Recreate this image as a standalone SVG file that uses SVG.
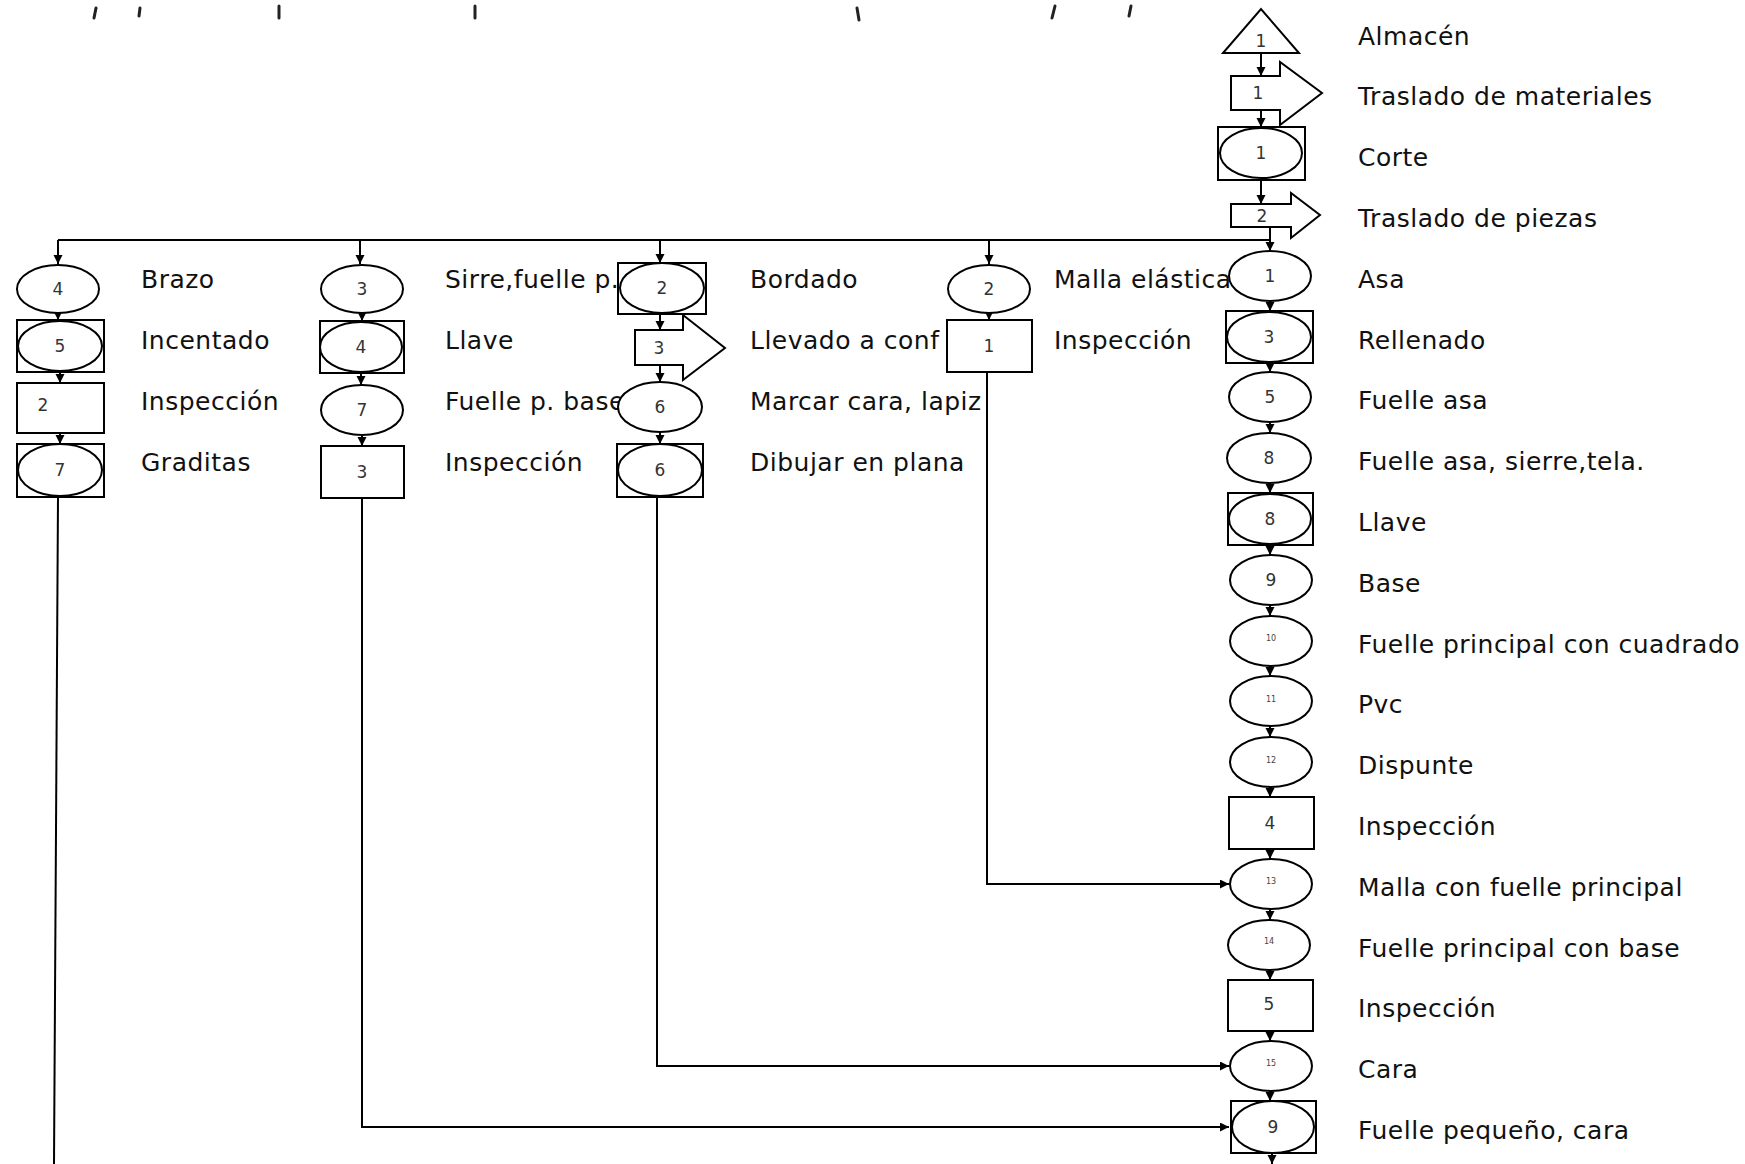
<svg xmlns="http://www.w3.org/2000/svg" width="1745" height="1164" viewBox="0 0 1745 1164">
<style>
.s{fill:#fff;stroke:#000;stroke-width:2}
.c{fill:none;stroke:#000;stroke-width:2}
.l{font-family:"DejaVu Sans",Verdana,sans-serif;font-size:25px;letter-spacing:0.5px;fill:#111}
.n{font-family:"DejaVu Sans",sans-serif;font-size:17px;fill:#333;text-anchor:middle}
.n2{font-family:"DejaVu Sans",sans-serif;font-size:8px;fill:#444;text-anchor:middle}
.frag{stroke:#222;stroke-width:3;stroke-linecap:round}
</style>
<defs>
<marker id="ar" markerUnits="userSpaceOnUse" markerWidth="11" markerHeight="11" refX="9" refY="4.5" orient="auto">
<path d="M0,0 L9,4.5 L0,9 z" fill="#000"/>
</marker>
</defs>
<rect width="1745" height="1164" fill="#fff"/>
<g id="title-fragments">
<line class="frag" x1="96" y1="8" x2="94" y2="18"/>
<line class="frag" x1="140" y1="8" x2="139" y2="16"/>
<line class="frag" x1="279" y1="6" x2="279" y2="18"/>
<line class="frag" x1="475" y1="6" x2="475" y2="18"/>
<line class="frag" x1="857" y1="8" x2="859" y2="20"/>
<line class="frag" x1="1055" y1="6" x2="1052" y2="18"/>
<line class="frag" x1="1131" y1="6" x2="1129" y2="16"/>
</g>
<g id="connectors" class="c">
<path d="M58,240 H1270"/>
<path d="M58,240 V264" marker-end="url(#ar)"/>
<path d="M360,240 V264" marker-end="url(#ar)"/>
<path d="M660,240 V263" marker-end="url(#ar)"/>
<path d="M989,240 V264" marker-end="url(#ar)"/>
<path d="M1270,227 V251" marker-end="url(#ar)"/>
<path d="M1261,53 V76" marker-end="url(#ar)"/>
<path d="M1261,110 V127" marker-end="url(#ar)"/>
<path d="M1261,180 V204" marker-end="url(#ar)"/>
<path d="M58,313 V320" marker-end="url(#ar)"/>
<path d="M60,372 V383" marker-end="url(#ar)"/>
<path d="M60,433 V444" marker-end="url(#ar)"/>
<path d="M58,497 L54,1164"/>
<path d="M362,313 V321" marker-end="url(#ar)"/>
<path d="M361,373 V385" marker-end="url(#ar)"/>
<path d="M362,435 V446" marker-end="url(#ar)"/>
<path d="M362,498 V1127 H1229" marker-end="url(#ar)"/>
<path d="M660,314 V330" marker-end="url(#ar)"/>
<path d="M660,365 V382" marker-end="url(#ar)"/>
<path d="M660,432 V444" marker-end="url(#ar)"/>
<path d="M657,497 V1066 H1229" marker-end="url(#ar)"/>
<path d="M989,313 V320" marker-end="url(#ar)"/>
<path d="M987,372 V884 H1229" marker-end="url(#ar)"/>
<path d="M1270,301 V311" marker-end="url(#ar)"/>
<path d="M1270,363 V372" marker-end="url(#ar)"/>
<path d="M1270,422 V433" marker-end="url(#ar)"/>
<path d="M1270,483 V493" marker-end="url(#ar)"/>
<path d="M1270,545 V555" marker-end="url(#ar)"/>
<path d="M1270,605 V616" marker-end="url(#ar)"/>
<path d="M1270,666 V676" marker-end="url(#ar)"/>
<path d="M1270,726 V737" marker-end="url(#ar)"/>
<path d="M1270,787 V797" marker-end="url(#ar)"/>
<path d="M1270,849 V859" marker-end="url(#ar)"/>
<path d="M1270,909 V920" marker-end="url(#ar)"/>
<path d="M1270,970 V980" marker-end="url(#ar)"/>
<path d="M1270,1031 V1041" marker-end="url(#ar)"/>
<path d="M1270,1091 V1101" marker-end="url(#ar)"/>
<path d="M1272,1153 V1164" marker-end="url(#ar)"/>
</g>
<g id="col1">
<g id="brazo"><ellipse class="s" cx="58" cy="289" rx="41" ry="24"/><text class="n" x="58" y="295">4</text><text class="l" x="141" y="288">Brazo</text></g>
<g id="incentado"><rect class="s" x="17" y="320" width="87" height="52"/><ellipse class="s" cx="60" cy="346" rx="42" ry="25"/><text class="n" x="60" y="352">5</text><text class="l" x="141" y="349">Incentado</text></g>
<g id="inspeccion2"><rect class="s" x="17" y="383" width="87" height="50"/><text class="n" x="43" y="411">2</text><text class="l" x="141" y="410">Inspección</text></g>
<g id="graditas"><rect class="s" x="17" y="444" width="87" height="53"/><ellipse class="s" cx="60" cy="470" rx="42" ry="26"/><text class="n" x="60" y="476">7</text><text class="l" x="141" y="471">Graditas</text></g>
</g>
<g id="col2">
<g id="sirre"><ellipse class="s" cx="362" cy="289" rx="41" ry="24"/><text class="n" x="362" y="295">3</text><text class="l" x="445" y="288">Sirre,fuelle p.</text></g>
<g id="llave4"><rect class="s" x="320" y="321" width="84" height="52"/><ellipse class="s" cx="361" cy="347" rx="41" ry="25"/><text class="n" x="361" y="353">4</text><text class="l" x="445" y="349">Llave</text></g>
<g id="fuellepbase"><ellipse class="s" cx="362" cy="410" rx="41" ry="25"/><text class="n" x="362" y="416">7</text><text class="l" x="445" y="410">Fuelle p. base</text></g>
<g id="inspeccion3"><rect class="s" x="321" y="446" width="83" height="52"/><text class="n" x="362" y="478">3</text><text class="l" x="445" y="471">Inspección</text></g>
</g>
<g id="col3">
<g id="bordado"><rect class="s" x="618" y="263" width="88" height="51"/><ellipse class="s" cx="662" cy="288" rx="42" ry="25"/><text class="n" x="662" y="294">2</text><text class="l" x="750" y="288">Bordado</text></g>
<g id="llevado"><polygon class="s" points="635,330 683,330 683,315 725,348 683,380 683,365 635,365"/><text class="n" x="659" y="354">3</text><text class="l" x="750" y="349">Llevado a conf</text></g>
<g id="marcar"><ellipse class="s" cx="660" cy="407" rx="42" ry="25"/><text class="n" x="660" y="413">6</text><text class="l" x="750" y="410">Marcar cara, lapiz</text></g>
<g id="dibujar"><rect class="s" x="617" y="444" width="86" height="53"/><ellipse class="s" cx="660" cy="470" rx="42" ry="26"/><text class="n" x="660" y="476">6</text><text class="l" x="750" y="471">Dibujar en plana</text></g>
</g>
<g id="col4">
<g id="malla-elastica"><ellipse class="s" cx="989" cy="289" rx="41" ry="24"/><text class="n" x="989" y="295">2</text><text class="l" x="1054" y="288">Malla elástica</text></g>
<g id="inspeccion1"><rect class="s" x="947" y="320" width="85" height="52"/><text class="n" x="989" y="352">1</text><text class="l" x="1054" y="349">Inspección</text></g>
</g>
<g id="main">
<g id="almacen"><polygon class="s" points="1223,53 1299,53 1261,9"/><text class="n" x="1261" y="47">1</text><text class="l" x="1358" y="45">Almacén</text></g>
<g id="traslado-materiales"><polygon class="s" points="1231,76 1280,76 1280,62 1322,93 1280,125 1280,110 1231,110"/><text class="n" x="1258" y="99">1</text><text class="l" x="1358" y="105">Traslado de materiales</text></g>
<g id="corte"><rect class="s" x="1218" y="127" width="87" height="53"/><ellipse class="s" cx="1261" cy="153" rx="41" ry="25"/><text class="n" x="1261" y="159">1</text><text class="l" x="1358" y="166">Corte</text></g>
<g id="traslado-piezas"><polygon class="s" points="1231,204 1291,204 1291,193 1320,215 1291,238 1291,227 1231,227"/><text class="n" x="1262" y="222">2</text><text class="l" x="1358" y="227">Traslado de piezas</text></g>
<g id="asa"><ellipse class="s" cx="1270" cy="276" rx="41" ry="25"/><text class="n" x="1270" y="282">1</text><text class="l" x="1358" y="288">Asa</text></g>
<g id="rellenado"><rect class="s" x="1226" y="311" width="87" height="52"/><ellipse class="s" cx="1269" cy="337" rx="42" ry="25"/><text class="n" x="1269" y="343">3</text><text class="l" x="1358" y="349">Rellenado</text></g>
<g id="fuelle-asa"><ellipse class="s" cx="1270" cy="397" rx="41" ry="25"/><text class="n" x="1270" y="403">5</text><text class="l" x="1358" y="409">Fuelle asa</text></g>
<g id="fuelle-asa-sierre"><ellipse class="s" cx="1269" cy="458" rx="42" ry="25"/><text class="n" x="1269" y="464">8</text><text class="l" x="1358" y="470">Fuelle asa, sierre,tela.</text></g>
<g id="llave8"><rect class="s" x="1228" y="493" width="85" height="52"/><ellipse class="s" cx="1270" cy="519" rx="41" ry="25"/><text class="n" x="1270" y="525">8</text><text class="l" x="1358" y="531">Llave</text></g>
<g id="base"><ellipse class="s" cx="1271" cy="580" rx="41" ry="25"/><text class="n" x="1271" y="586">9</text><text class="l" x="1358" y="592">Base</text></g>
<g id="cuadrado"><ellipse class="s" cx="1271" cy="641" rx="41" ry="25"/><text class="n2" x="1271" y="641">10</text><text class="l" x="1358" y="653">Fuelle principal con cuadrado</text></g>
<g id="pvc"><ellipse class="s" cx="1271" cy="701" rx="41" ry="25"/><text class="n2" x="1271" y="702">11</text><text class="l" x="1358" y="713">Pvc</text></g>
<g id="dispunte"><ellipse class="s" cx="1271" cy="762" rx="41" ry="25"/><text class="n2" x="1271" y="763">12</text><text class="l" x="1358" y="774">Dispunte</text></g>
<g id="inspeccion4"><rect class="s" x="1229" y="797" width="85" height="52"/><text class="n" x="1270" y="829">4</text><text class="l" x="1358" y="835">Inspección</text></g>
<g id="malla-fuelle"><ellipse class="s" cx="1271" cy="884" rx="41" ry="25"/><text class="n2" x="1271" y="884">13</text><text class="l" x="1358" y="896">Malla con fuelle principal</text></g>
<g id="fuelle-base"><ellipse class="s" cx="1269" cy="945" rx="41" ry="25"/><text class="n2" x="1269" y="944">14</text><text class="l" x="1358" y="957">Fuelle principal con base</text></g>
<g id="inspeccion5"><rect class="s" x="1228" y="980" width="85" height="51"/><text class="n" x="1269" y="1010">5</text><text class="l" x="1358" y="1017">Inspección</text></g>
<g id="cara"><ellipse class="s" cx="1271" cy="1066" rx="41" ry="25"/><text class="n2" x="1271" y="1066">15</text><text class="l" x="1358" y="1078">Cara</text></g>
<g id="fuelle-pequeno"><rect class="s" x="1231" y="1101" width="85" height="52"/><ellipse class="s" cx="1273" cy="1127" rx="41" ry="26"/><text class="n" x="1273" y="1133">9</text><text class="l" x="1358" y="1139">Fuelle pequeño, cara</text></g>
</g>
</svg>
